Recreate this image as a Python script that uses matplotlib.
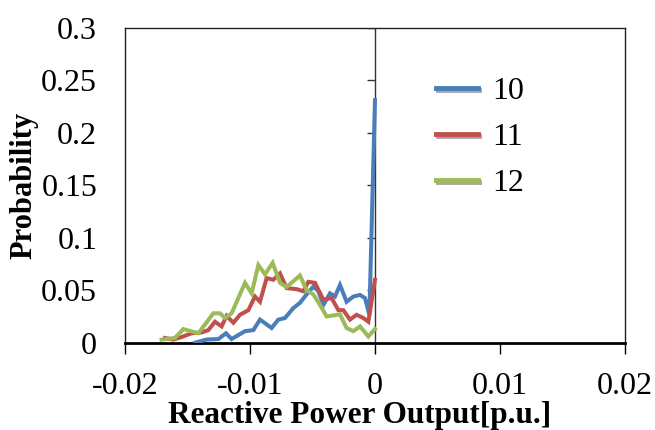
import matplotlib

matplotlib.use("Agg")
import matplotlib.pyplot as plt
import matplotlib.patheffects as pe

plt.rcParams["font.family"] = ["Liberation Serif", "DejaVu Serif"]
plt.rcParams["axes.unicode_minus"] = False

# values
x10 = [-0.0144, -0.01347, -0.01253, -0.01192, -0.01147, -0.0104, -0.00973, -0.0092,
       -0.00827, -0.00773, -0.0072, -0.00653, -0.006, -0.00547, -0.00493, -0.00453,
       -0.00413, -0.0036, -0.0032, -0.0028, -0.00227, -0.00173, -0.0012, -0.0008,
       -0.00045, 0.0]
y10 = [0.0, 0.003, 0.0035, 0.009, 0.0035, 0.011, 0.012, 0.022, 0.014, 0.022, 0.0235,
       0.033, 0.038, 0.046, 0.0535, 0.049, 0.036, 0.047, 0.044, 0.055, 0.039, 0.044,
       0.0455, 0.0425, 0.0266, 0.231]

x11 = [-0.0168, -0.01613, -0.01547, -0.01467, -0.01387, -0.01333, -0.0128, -0.01227,
       -0.01187, -0.01133, -0.0108, -0.01013, -0.0096, -0.0092, -0.00867, -0.00813,
       -0.0076, -0.00707, -0.00627, -0.00573, -0.00533, -0.0048, -0.00413, -0.00347,
       -0.00293, -0.00253, -0.002, -0.00147, -0.00093, -0.00053, 0.0]
y11 = [0.0045, 0.003, 0.0054, 0.009, 0.0098, 0.012, 0.020, 0.0155, 0.0256, 0.019,
       0.0266, 0.031, 0.044, 0.039, 0.0615, 0.06, 0.066, 0.052, 0.051, 0.049, 0.058,
       0.057, 0.041, 0.0425, 0.031, 0.031, 0.022, 0.0266, 0.0235, 0.020, 0.060]

x12 = [-0.01707, -0.016, -0.01533, -0.01413, -0.01293, -0.0124, -0.012, -0.01147,
       -0.0104, -0.00987, -0.00933, -0.0088, -0.00819, -0.0076, -0.00707, -0.006,
       -0.00547, -0.00493, -0.0044, -0.00387, -0.0028, -0.00227, -0.00173, -0.0012,
       -0.00053, 0.0]
y12 = [0.003, 0.0045, 0.013, 0.009, 0.028, 0.028, 0.0235, 0.028, 0.057, 0.047, 0.074,
       0.065, 0.076, 0.057, 0.053, 0.064, 0.050, 0.046, 0.036, 0.025, 0.027, 0.014,
       0.011, 0.0155, 0.006, 0.013]

series = [("10", x10, y10, "#4A7EBB"),
          ("11", x11, y11, "#C0504D"),
          ("12", x12, y12, "#9BBB59")]

xticks = [-0.02, -0.01, 0, 0.01, 0.02]
xticklabels = ["-0.02", "-0.01", "0", "0.01", "0.02"]
yticks = [0, 0.05, 0.1, 0.15, 0.2, 0.25, 0.3]
yticklabels = ["0", "0.05", "0.1", "0.15", "0.2", "0.25", "0.3"]

fig = plt.figure(figsize=(6.55, 4.3), dpi=100)
ax = fig.add_axes([0.1908, 0.203, 0.7634, 0.7326])

for name, xs, ys, color in series:
    ax.plot(xs, ys, color=color, lw=2.9, label=name, solid_joinstyle="miter",
            zorder=3)

ax.set_xlim(-0.02, 0.02)
ax.set_ylim(0, 0.3)

# vertical axis crosses at x = 0, with its ticks drawn there
ax.axvline(0, color="#333333", lw=1.0, zorder=2)
ax.plot([0] * len(yticks), yticks, ls="none", marker=0, ms=6, mew=1.0,
        color="#333333", zorder=2)

ax.set_xticks(xticks)
ax.set_xticklabels(xticklabels)
ax.set_yticks(yticks)
ax.set_yticklabels(yticklabels)
ax.tick_params(axis="x", direction="out", length=8, width=1.0, pad=13,
               labelsize=23)
ax.tick_params(axis="y", length=0, pad=20, labelsize=23)

for side in ["top", "right", "left"]:
    ax.spines[side].set_linewidth(1.0)
    ax.spines[side].set_color("#222222")
ax.spines["bottom"].set_linewidth(2.0)
ax.spines["bottom"].set_color("black")

ax.set_xlabel("Reactive Power Output[p.u.]", fontsize=22.5, fontweight="bold")
ax.xaxis.set_label_coords(0.47, -0.186)
ax.set_ylabel("Probability", fontsize=22, fontweight="bold", labelpad=2)

leg = ax.legend(loc="upper left", bbox_to_anchor=(0.597, 0.885), frameon=False,
                fontsize=23, handlelength=1.3, handletextpad=0.45,
                labelspacing=0.52, borderaxespad=0)
for line in leg.get_lines():
    line.set_linewidth(3.5)
    line.set_path_effects([pe.SimpleLineShadow(offset=(1, -1.5), alpha=0.35),
                           pe.Normal()])

fig.savefig("out.png", dpi=100)
